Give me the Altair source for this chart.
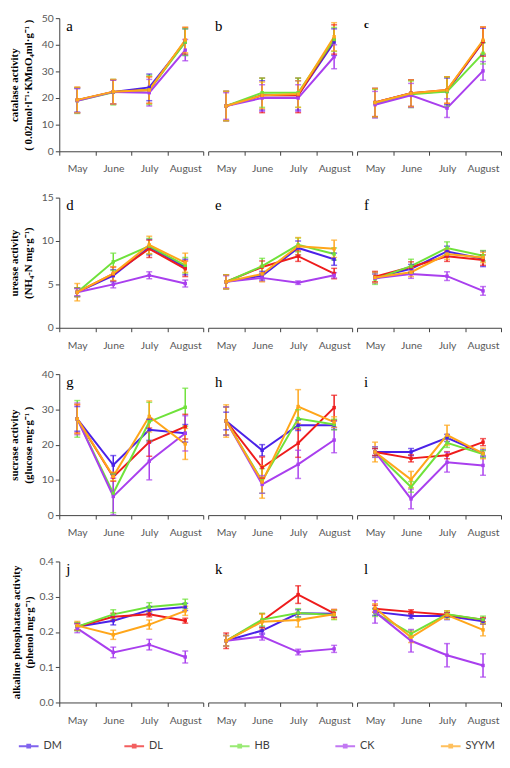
import altair as alt
import pandas as pd

MONTHS = ["May", "June", "July", "August"]
SERIES = ["DM", "DL", "HB", "CK", "SYYM"]
COLORS = ["#4B22E8", "#EE1C1C", "#6FE23A", "#A93FEE", "#FFA61A"]

# ---- catalase activity ----
A_VAL = {"DM": [19.2, 22.3, 24.0, 41.0], "DL": [19.2, 22.3, 23.0, 41.5], "HB": [19.0, 22.2, 23.0, 41.0],
         "CK": [19.0, 22.3, 22.0, 38.0], "SYYM": [19.3, 22.4, 23.0, 41.8]}
A_ERR = {"DM": [4.5, 4.5, 5.0, 5.0], "DL": [4.8, 4.6, 5.0, 5.0], "HB": [4.8, 4.8, 5.5, 5.0],
         "CK": [4.5, 4.5, 5.0, 4.0], "SYYM": [4.8, 4.6, 5.0, 4.8]}
B_VAL = {"DM": [17.0, 21.0, 21.0, 41.0], "DL": [17.0, 21.0, 21.0, 42.0], "HB": [17.0, 22.0, 22.0, 42.0],
         "CK": [17.0, 20.0, 20.0, 35.5], "SYYM": [17.0, 21.0, 21.5, 43.0]}
B_ERR = {"DM": [5.5, 5.5, 5.5, 5.0], "DL": [5.5, 6.5, 6.5, 5.5], "HB": [5.5, 5.5, 5.5, 4.5],
         "CK": [5.0, 5.0, 5.0, 4.5], "SYYM": [5.5, 5.0, 5.0, 5.3]}
C_VAL = {"DM": [18.3, 21.8, 22.5, 41.2], "DL": [18.3, 21.8, 23.0, 41.2], "HB": [18.0, 21.4, 22.4, 36.8],
         "CK": [17.5, 21.0, 16.2, 30.2], "SYYM": [18.3, 21.8, 23.0, 41.7]}
C_ERR = {"DM": [5.3, 5.0, 5.0, 5.0], "DL": [5.3, 5.0, 5.0, 5.5], "HB": [5.3, 5.0, 5.5, 4.0],
         "CK": [5.0, 4.5, 3.5, 3.5], "SYYM": [5.3, 5.0, 5.0, 5.0]}

# ---- urease activity ----
D_VAL = {"DM": [4.1, 6.0, 9.3, 7.0], "DL": [4.1, 6.2, 9.1, 6.8], "HB": [4.1, 7.6, 9.4, 7.2],
         "CK": [4.1, 5.0, 6.05, 5.1], "SYYM": [4.1, 6.25, 9.55, 7.5]}
D_ERR = {"DM": [0.5, 0.7, 0.9, 0.9], "DL": [0.5, 0.8, 1.0, 0.9], "HB": [0.5, 1.0, 0.9, 0.9],
         "CK": [0.4, 0.4, 0.4, 0.4], "SYYM": [1.0, 0.8, 1.0, 1.1]}
E_VAL = {"DM": [5.3, 6.0, 9.2, 7.9], "DL": [5.3, 7.0, 8.25, 6.25], "HB": [5.3, 7.1, 9.55, 8.5],
         "CK": [5.3, 5.75, 5.2, 6.05], "SYYM": [5.3, 6.2, 9.4, 9.1]}
E_ERR = {"DM": [0.8, 0.5, 0.8, 0.7], "DL": [0.8, 0.7, 0.6, 0.6], "HB": [0.8, 0.9, 0.8, 0.7],
         "CK": [0.7, 0.4, 0.2, 0.3], "SYYM": [0.8, 0.9, 1.0, 1.0]}
F_VAL = {"DM": [5.8, 6.8, 8.8, 7.95], "DL": [5.9, 7.0, 8.25, 7.8], "HB": [5.6, 7.1, 9.2, 8.3],
         "CK": [5.7, 6.2, 5.95, 4.25], "SYYM": [5.8, 6.4, 8.5, 8.1]}
F_ERR = {"DM": [0.6, 0.5, 0.6, 0.9], "DL": [0.6, 0.6, 0.6, 0.6], "HB": [0.6, 0.8, 0.7, 0.6],
         "CK": [0.5, 0.5, 0.5, 0.5], "SYYM": [0.6, 0.5, 0.6, 0.6]}

# ---- sucrase activity ----
G_VAL = {"DM": [27.3, 14.2, 24.2, 23.2], "DL": [27.3, 10.8, 20.7, 25.1], "HB": [27.3, 6.2, 26.5, 30.6],
         "CK": [27.3, 5.3, 15.3, 23.2], "SYYM": [27.3, 11.0, 28.0, 20.2]}
G_ERR = {"DM": [3.5, 2.7, 3.0, 2.5], "DL": [4.0, 1.2, 4.0, 3.5], "HB": [5.2, 5.5, 5.5, 5.4],
         "CK": [4.5, 5.2, 5.3, 5.0], "SYYM": [4.2, 1.2, 4.4, 4.4]}
H_VAL = {"DM": [26.7, 18.4, 25.5, 25.5], "DL": [26.7, 13.5, 20.4, 30.5], "HB": [26.7, 9.7, 27.4, 25.7],
         "CK": [26.7, 8.7, 14.4, 21.3], "SYYM": [26.7, 9.4, 30.8, 26.4]}
H_ERR = {"DM": [2.5, 1.6, 1.5, 1.2], "DL": [4.0, 3.0, 4.0, 3.5], "HB": [4.0, 3.5, 2.5, 1.5],
         "CK": [4.0, 2.5, 4.0, 3.6], "SYYM": [4.6, 4.6, 4.8, 1.5]}
I_VAL = {"DM": [17.9, 17.9, 21.9, 17.5], "DL": [17.9, 16.1, 17.0, 20.7], "HB": [17.9, 8.0, 20.5, 17.3],
         "CK": [17.9, 4.6, 15.0, 14.1], "SYYM": [17.9, 10.1, 22.7, 17.5]}
I_ERR = {"DM": [1.0, 1.0, 1.0, 1.0], "DL": [1.0, 1.0, 1.0, 1.0], "HB": [1.5, 1.5, 1.3, 1.0],
         "CK": [1.5, 2.8, 2.8, 2.8], "SYYM": [2.8, 2.3, 2.8, 1.5]}

# ---- alkaline phosphatase activity ----
J_VAL = {"DM": [0.215, 0.232, 0.262, 0.271], "DL": [0.215, 0.243, 0.250, 0.232], "HB": [0.215, 0.250, 0.271, 0.280],
         "CK": [0.210, 0.142, 0.164, 0.129], "SYYM": [0.218, 0.192, 0.221, 0.260]}
J_ERR = {"DM": [0.010, 0.012, 0.010, 0.010], "DL": [0.010, 0.010, 0.007, 0.007], "HB": [0.012, 0.013, 0.012, 0.013],
         "CK": [0.012, 0.015, 0.015, 0.017], "SYYM": [0.012, 0.013, 0.013, 0.013]}
K_VAL = {"DM": [0.175, 0.204, 0.253, 0.252], "DL": [0.175, 0.232, 0.306, 0.253], "HB": [0.175, 0.235, 0.254, 0.248],
         "CK": [0.175, 0.187, 0.143, 0.152], "SYYM": [0.175, 0.229, 0.234, 0.250]}
K_ERR = {"DM": [0.015, 0.010, 0.010, 0.010], "DL": [0.022, 0.020, 0.025, 0.011], "HB": [0.015, 0.018, 0.012, 0.013],
         "CK": [0.015, 0.010, 0.008, 0.010], "SYYM": [0.015, 0.022, 0.020, 0.013]}
L_VAL = {"DM": [0.257, 0.245, 0.245, 0.230], "DL": [0.266, 0.257, 0.249, 0.235], "HB": [0.254, 0.195, 0.250, 0.235],
         "CK": [0.257, 0.175, 0.134, 0.105], "SYYM": [0.268, 0.185, 0.248, 0.206]}
L_ERR = {"DM": [0.010, 0.007, 0.010, 0.008], "DL": [0.010, 0.006, 0.006, 0.006], "HB": [0.010, 0.010, 0.010, 0.010],
         "CK": [0.032, 0.032, 0.033, 0.033], "SYYM": [0.012, 0.015, 0.012, 0.017]}

ROW_TITLES = [
    ["catalase activity", "( 0.02mol·l⁻¹·KMnO₄ml·g⁻¹ )"],
    ["urease activity", "(NH₄-N mg·g⁻¹)"],
    ["sucrase activity", "(glucose mg·g⁻¹ )"],
    ["alkaline phosphatase activity", "(phenol mg·g⁻¹)"],
]
ROW_DOMAINS = [[0, 50], [0, 15], [0, 40], [0, 0.4]]
ROW_TICKS = [[0, 10, 20, 30, 40, 50], [0, 5, 10, 15], [0, 10, 20, 30, 40], [0, 0.1, 0.2, 0.3, 0.4]]
ROW_FORMATS = ["d", "d", "d", ".1f"]
ROW_HEIGHTS = [135, 132, 143, 143]
ROW_TITLE_PAD = [8, 8, 8, 4]

PANELS = [
    ("a", A_VAL, A_ERR), ("b", B_VAL, B_ERR), ("c", C_VAL, C_ERR),
    ("d", D_VAL, D_ERR), ("e", E_VAL, E_ERR), ("f", F_VAL, F_ERR),
    ("g", G_VAL, G_ERR), ("h", H_VAL, H_ERR), ("i", I_VAL, I_ERR),
    ("j", J_VAL, J_ERR), ("k", K_VAL, K_ERR), ("l", L_VAL, L_ERR),
]

PANEL_W = 146
LEGEND_SYMBOL = "M-1,0L1,0M-0.14,-0.14L0.14,-0.14L0.14,0.14L-0.14,0.14Z"

color = alt.Color(
    "series:N",
    scale=alt.Scale(domain=SERIES, range=COLORS),
    legend=alt.Legend(
        orient="none", legendX=-42, legendY=727, direction="horizontal", columns=5,
        title=None, symbolType=LEGEND_SYMBOL, symbolSize=400, symbolStrokeWidth=2,
        labelFont="Lato", labelFontSize=11, labelColor="#404040", labelOffset=4,
        gridAlign="all", columnPadding=48, padding=0, offset=0,
    ),
)


def make_panel(idx):
    letter, vals, errs = PANELS[idx]
    row, col = divmod(idx, 3)
    records = []
    for s in SERIES:
        for i, m in enumerate(MONTHS):
            v = vals[s][i]
            e = errs[s][i]
            records.append({"month": m, "series": s, "value": v, "lo": v - e, "hi": v + e})
    df = pd.DataFrame(records)

    xaxis = alt.Axis(title=None, labelAngle=0, tickBand="extent", grid=False,
                     labelFont="Lato", labelFontSize=10.5, labelColor="#595959",
                     domainColor="#404040", tickColor="#404040", tickSize=4, labelPadding=9)
    x = alt.X("month:N", bandPosition=0.5,
              scale=alt.Scale(type="band", domain=MONTHS, paddingInner=0, paddingOuter=0),
              axis=xaxis)
    yscale = alt.Scale(domain=ROW_DOMAINS[row], nice=False, zero=True)
    if col == 0:
        yaxis = alt.Axis(title=ROW_TITLES[row], values=ROW_TICKS[row], format=ROW_FORMATS[row], grid=False,
                         labelOverlap=False, labelBound=False,
                         labelFont="Lato", labelFontSize=10.5, labelColor="#595959",
                         domainColor="#404040", tickColor="#404040", tickSize=4, labelPadding=2,
                         titleFont="Liberation Serif", titleFontSize=11, titleFontWeight="bold",
                         titleColor="#000000", titleLineHeight=14, titlePadding=ROW_TITLE_PAD[row])
    else:
        yaxis = None

    base = alt.Chart(df)
    bars = base.mark_rule(strokeWidth=1.5).encode(
        x=x, y=alt.Y("lo:Q", scale=yscale, axis=yaxis), y2="hi:Q", color=color)
    caps = base.transform_fold(["lo", "hi"], as_=["cap", "capv"]).mark_tick(
        size=6, thickness=1.5).encode(x=x, y=alt.Y("capv:Q", scale=yscale, axis=yaxis), color=color)
    lines = base.mark_line(strokeWidth=2).encode(
        x=x, y=alt.Y("value:Q", scale=yscale, axis=yaxis), color=color)
    pts = base.mark_square(size=12, opacity=1).encode(
        x=x, y=alt.Y("value:Q", scale=yscale, axis=yaxis), color=color)

    tag = alt.Chart(pd.DataFrame({"tag": [letter]})).mark_text(
        align="left", baseline="top", dx=7, dy=1,
        font="Liberation Serif", fontSize=11 if letter == "c" else 15,
        fontWeight="bold" if letter == "c" else "normal", color="#000000",
    ).encode(text="tag:N", x=alt.value(0), y=alt.value(0))

    return alt.layer(lines, bars, caps, pts, tag).properties(
        width=PANEL_W, height=ROW_HEIGHTS[row])


chart = alt.concat(
    *[make_panel(i) for i in range(12)],
    columns=3, spacing={"row": 47, "column": 5}, bounds="flush", align="each",
).properties(padding=0).configure_view(stroke=None).configure_axisY(labelOverlap=False)

chart.save("out.html", embed_options={"renderer": "svg", "actions": False})
